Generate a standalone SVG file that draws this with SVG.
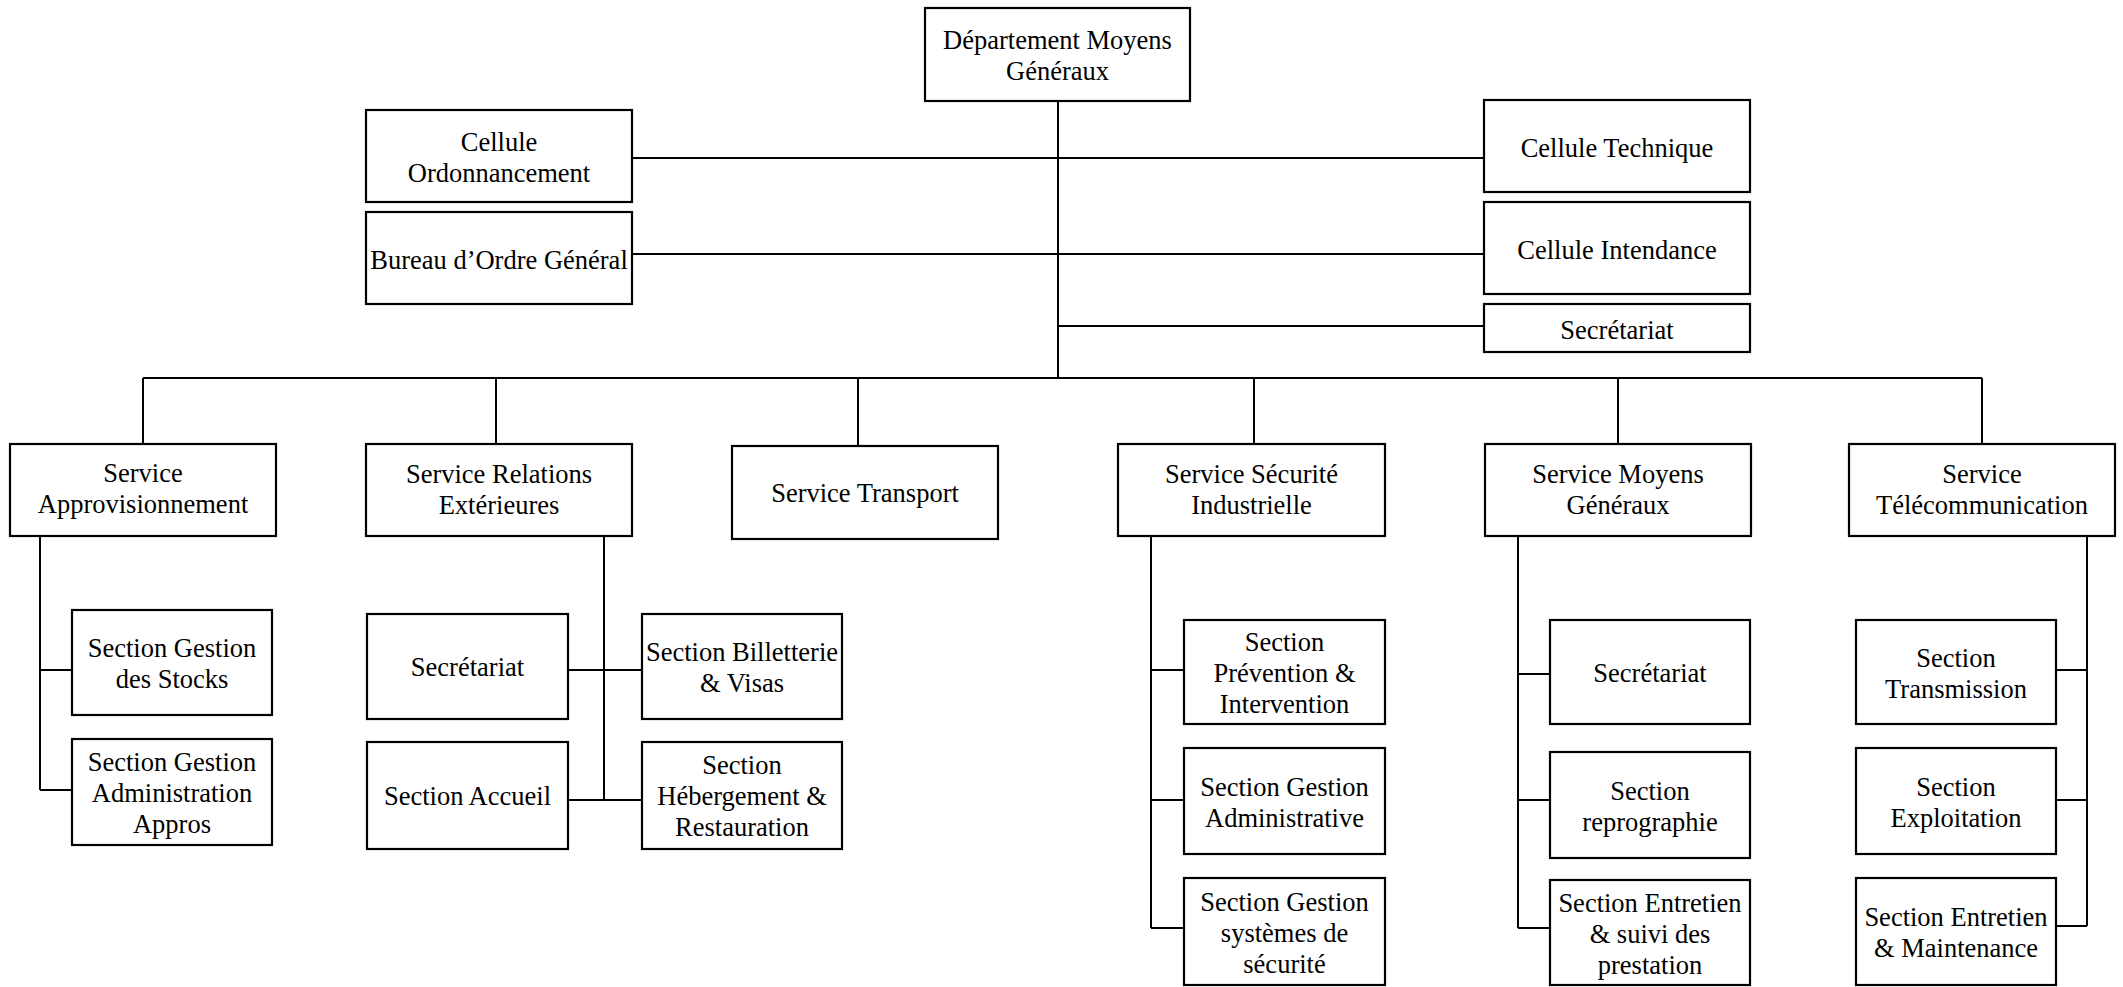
<svg xmlns="http://www.w3.org/2000/svg" width="2123" height="987" viewBox="0 0 2123 987">
  <style>
    .box { fill: #fff; stroke: #000; stroke-width: 2.2; }
    .link { fill: none; stroke: #000; stroke-width: 2; }
    text { font-family: "Liberation Serif", "Times New Roman", serif; font-size: 26.5px; fill: #000; text-anchor: middle; }
  </style>
  <rect width="2123" height="987" fill="#fff"/>

  <!-- connectors -->
  <g id="connectors" class="link">
    <path d="M1058 101 V378"/>
    <path d="M632 158 H1484"/>
    <path d="M632 254 H1484"/>
    <path d="M1058 326 H1484"/>
    <path d="M143 378 H1982"/>
    <path d="M143 378 V444 M496 378 V444 M858 378 V446 M1254 378 V444 M1618 378 V444 M1982 378 V444"/>
    <!-- Approvisionnement -->
    <path d="M40 536 V790 M40 670 H72 M40 790 H72"/>
    <!-- Relations Extérieures -->
    <path d="M604 536 V800 M568 670 H642 M568 800 H642"/>
    <!-- Sécurité Industrielle -->
    <path d="M1151 536 V928 M1151 670 H1184 M1151 800 H1184 M1151 928 H1184"/>
    <!-- Moyens Généraux -->
    <path d="M1518 536 V928 M1518 674 H1550 M1518 800 H1550 M1518 928 H1550"/>
    <!-- Télécommunication -->
    <path d="M2087 536 V926 M2056 670 H2087 M2056 800 H2087 M2056 926 H2087"/>
  </g>

  <!-- top level -->
  <g id="departement">
    <rect class="box" x="925" y="8" width="265" height="93"/>
    <text x="1057.5" y="48.5">Département Moyens</text>
    <text x="1057.5" y="79.5">Généraux</text>
  </g>
  <g id="cellule-ordonnancement">
    <rect class="box" x="366" y="110" width="266" height="92"/>
    <text x="499" y="150.5">Cellule</text>
    <text x="499" y="181.5">Ordonnancement</text>
  </g>
  <g id="bureau-ordre">
    <rect class="box" x="366" y="212" width="266" height="92"/>
    <text x="499" y="269">Bureau d’Ordre Général</text>
  </g>
  <g id="cellule-technique">
    <rect class="box" x="1484" y="100" width="266" height="92"/>
    <text x="1617" y="156.5">Cellule Technique</text>
  </g>
  <g id="cellule-intendance">
    <rect class="box" x="1484" y="202" width="266" height="92"/>
    <text x="1617" y="258.5">Cellule Intendance</text>
  </g>
  <g id="secretariat-dep">
    <rect class="box" x="1484" y="304" width="266" height="48"/>
    <text x="1617" y="338.5">Secrétariat</text>
  </g>

  <!-- services -->
  <g id="service-approvisionnement">
    <rect class="box" x="10" y="444" width="266" height="92"/>
    <text x="143" y="482">Service</text>
    <text x="143" y="513">Approvisionnement</text>
  </g>
  <g id="service-relations">
    <rect class="box" x="366" y="444" width="266" height="92"/>
    <text x="499" y="483">Service Relations</text>
    <text x="499" y="514">Extérieures</text>
  </g>
  <g id="service-transport">
    <rect class="box" x="732" y="446" width="266" height="93"/>
    <text x="865" y="502">Service Transport</text>
  </g>
  <g id="service-securite">
    <rect class="box" x="1118" y="444" width="267" height="92"/>
    <text x="1251.5" y="483">Service Sécurité</text>
    <text x="1251.5" y="514">Industrielle</text>
  </g>
  <g id="service-moyens">
    <rect class="box" x="1485" y="444" width="266" height="92"/>
    <text x="1618" y="483">Service Moyens</text>
    <text x="1618" y="514">Généraux</text>
  </g>
  <g id="service-telecom">
    <rect class="box" x="1849" y="444" width="266" height="92"/>
    <text x="1982" y="483">Service</text>
    <text x="1982" y="514">Télécommunication</text>
  </g>

  <!-- Approvisionnement sections -->
  <g id="section-stocks">
    <rect class="box" x="72" y="610" width="200" height="105"/>
    <text x="172" y="656.5">Section Gestion</text>
    <text x="172" y="687.5">des Stocks</text>
  </g>
  <g id="section-admin-appros">
    <rect class="box" x="72" y="739" width="200" height="106"/>
    <text x="172" y="770.5">Section Gestion</text>
    <text x="172" y="801.5">Administration</text>
    <text x="172" y="832.5">Appros</text>
  </g>

  <!-- Relations Extérieures sections -->
  <g id="secretariat-relations">
    <rect class="box" x="367" y="614" width="201" height="105"/>
    <text x="467.5" y="676">Secrétariat</text>
  </g>
  <g id="section-accueil">
    <rect class="box" x="367" y="742" width="201" height="107"/>
    <text x="467.5" y="805">Section Accueil</text>
  </g>
  <g id="section-billetterie">
    <rect class="box" x="642" y="614" width="200" height="105"/>
    <text x="742" y="660.5">Section Billetterie</text>
    <text x="742" y="691.5">&amp; Visas</text>
  </g>
  <g id="section-hebergement">
    <rect class="box" x="642" y="742" width="200" height="107"/>
    <text x="742" y="774">Section</text>
    <text x="742" y="805">Hébergement &amp;</text>
    <text x="742" y="836">Restauration</text>
  </g>

  <!-- Sécurité Industrielle sections -->
  <g id="section-prevention">
    <rect class="box" x="1184" y="620" width="201" height="104"/>
    <text x="1284.5" y="650.5">Section</text>
    <text x="1284.5" y="681.5">Prévention &amp;</text>
    <text x="1284.5" y="712.5">Intervention</text>
  </g>
  <g id="section-gestion-admin">
    <rect class="box" x="1184" y="748" width="201" height="106"/>
    <text x="1284.5" y="795.5">Section Gestion</text>
    <text x="1284.5" y="826.5">Administrative</text>
  </g>
  <g id="section-systemes-securite">
    <rect class="box" x="1184" y="878" width="201" height="107"/>
    <text x="1284.5" y="910.5">Section Gestion</text>
    <text x="1284.5" y="941.5">systèmes de</text>
    <text x="1284.5" y="972.5">sécurité</text>
  </g>

  <!-- Moyens Généraux sections -->
  <g id="secretariat-moyens">
    <rect class="box" x="1550" y="620" width="200" height="104"/>
    <text x="1650" y="681.5">Secrétariat</text>
  </g>
  <g id="section-reprographie">
    <rect class="box" x="1550" y="752" width="200" height="106"/>
    <text x="1650" y="799.5">Section</text>
    <text x="1650" y="830.5">reprographie</text>
  </g>
  <g id="section-entretien-suivi">
    <rect class="box" x="1550" y="880" width="200" height="105"/>
    <text x="1650" y="912">Section Entretien</text>
    <text x="1650" y="943">&amp; suivi des</text>
    <text x="1650" y="974">prestation</text>
  </g>

  <!-- Télécommunication sections -->
  <g id="section-transmission">
    <rect class="box" x="1856" y="620" width="200" height="104"/>
    <text x="1956" y="666.5">Section</text>
    <text x="1956" y="697.5">Transmission</text>
  </g>
  <g id="section-exploitation">
    <rect class="box" x="1856" y="748" width="200" height="106"/>
    <text x="1956" y="795.5">Section</text>
    <text x="1956" y="826.5">Exploitation</text>
  </g>
  <g id="section-entretien-maintenance">
    <rect class="box" x="1856" y="878" width="200" height="107"/>
    <text x="1956" y="926">Section Entretien</text>
    <text x="1956" y="957">&amp; Maintenance</text>
  </g>
</svg>
